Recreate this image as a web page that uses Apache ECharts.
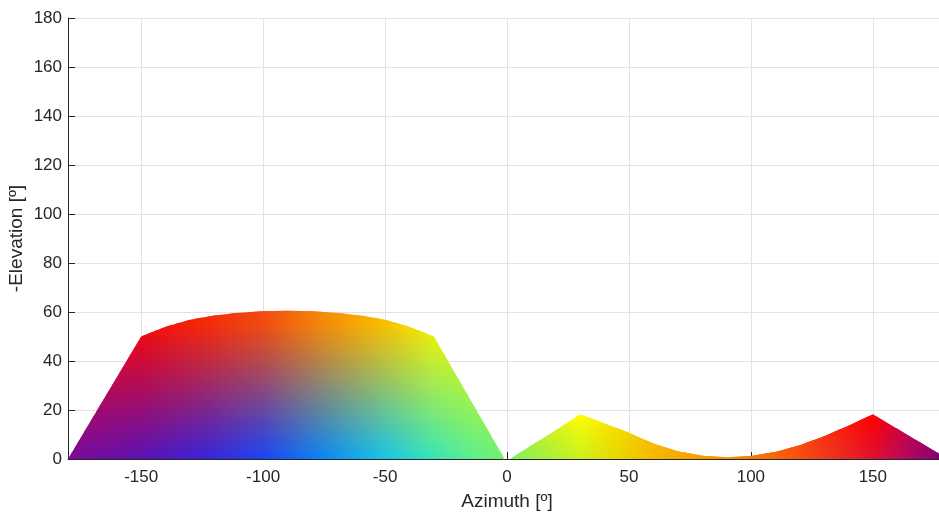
<!DOCTYPE html>
<html>
<head>
<meta charset="utf-8">
<title>Azimuth / Elevation coverage</title>
<script src="https://cdn.jsdelivr.net/npm/echarts@6/dist/echarts.min.js"></script>
<style>
  html, body { margin: 0; padding: 0; background: #fff; }
  #chart { width: 939px; height: 519px; }
</style>
</head>
<body>
<div id="chart"></div>
<script>
// outline of the two coloured regions (top edge)
const westAz = [-180, -150, -140, -130, -120, -110, -100, -90, -80, -70, -60, -50, -40, -30, -1]
const westEl = [0, 50, 54, 56.8, 58.6, 59.7, 60.3, 60.5, 60.3, 59.7, 58.6, 56.8, 54, 50, 0]
const eastAz = [1.2, 10, 20, 30, 40, 50, 60, 70, 80, 90, 100, 110, 120, 130, 140, 150, 160, 170, 180]
const eastEl = [0, 5.5, 11.7, 18.2, 14.5, 10.7, 6.3, 3.2, 1.3, 0.7, 1.2, 2.9, 5.6, 9.3, 13.6, 18.2, 12.3, 6.4, 0.5]
const xTicks = [-150, -100, -50, 0, 50, 100, 150]

// colour at elevation 0 (low) and at elevation `span` (high), per azimuth stop
const westPal = {
  stops: [-180, -150, -125, -100, -75, -50, -30, -15, 0],
  low: ['#7a0a9a', '#5a12b4', '#3a22d8', '#1a44f4', '#0a88f4', '#18c4e8', '#38e4b8', '#58ee90', '#78f070'],
  high: ['#ff0010', '#f80808', '#f42808', '#f04c10', '#f48a08', '#f8c000', '#f8f000', '#f0f800', '#e0f800'],
  span: 55
}
const eastPal = {
  stops: [0, 15, 30, 45, 60, 90, 120, 150, 165, 180],
  low: ['#80f060', '#a0f040', '#c8f020', '#e8d800', '#f4b800', '#f89000', '#f85010', '#e01030', '#b00860', '#780078'],
  high: ['#a0f040', '#d8f020', '#ffff00', '#f8e000', '#f8c000', '#f89000', '#f84008', '#ff0000', '#c00050', '#800070'],
  span: 18
}

const font = "'Liberation Sans', Arial, Helvetica, sans-serif"
const ink = '#262626'

function rgb(h) {
  return [1, 3, 5].map(i => parseInt(h.slice(i, i + 2), 16))
}
function mix(a, b, t) {
  const p = rgb(a), q = rgb(b)
  return 'rgb(' + p.map((v, i) => Math.round(v + (q[i] - v) * t)).join(',') + ')'
}
function cut(a, b, y) {
  const t = (y - a[1]) / (b[1] - a[1])
  return [a[0] + t * (b[0] - a[0]), y]
}
// one Sutherland-Hodgman pass against a horizontal line
function clipEdge(pts, inside, y) {
  const res = []
  for (let i = 0; i < pts.length; i++) {
    const cur = pts[i]
    const prev = pts[(i + pts.length - 1) % pts.length]
    const ci = inside(cur), pi = inside(prev)
    if (ci) {
      if (!pi) res.push(cut(prev, cur, y))
      res.push(cur)
    } else if (pi) {
      res.push(cut(prev, cur, y))
    }
  }
  return res
}
function clipBand(pts, yTop, yBot) {
  let out = clipEdge(pts, p => p[1] >= yTop, yTop)
  if (out.length < 3) return out
  return clipEdge(out, p => p[1] <= yBot, yBot)
}

function region(az, el, pal, step) {
  return {
    type: 'custom',
    coordinateSystem: 'cartesian2d',
    clip: true,
    silent: true,
    z: 3,
    data: az.map((a, i) => [a, el[i]]),
    renderItem(params, api) {
      if (params.context.rendered) return
      params.context.rendered = true
      const pts = az.map((a, i) => api.coord([a, el[i]]))
      pts.push(api.coord([az[az.length - 1], 0]))
      pts.push(api.coord([az[0], 0]))
      const x0 = api.coord([-180, 0])[0]
      const x1 = api.coord([180, 0])[0]
      const top = Math.max(...el)
      const children = []
      // horizontal bands, each with its own hue gradient
      for (let k = 0; k * step < top; k++) {
        const e = k * step
        const yBot = api.coord([0, e])[1]
        const yTop = api.coord([0, e + step])[1] - 1.5
        const band = clipBand(pts, yTop, yBot)
        if (band.length < 3) continue
        const t = Math.min(1, (e + step / 2) / pal.span)
        const stops = pal.stops.map((a, i) => ({
          offset: (a + 180) / 360,
          color: mix(pal.low[i], pal.high[i], t)
        }))
        children.push({
          type: 'polygon',
          shape: { points: band },
          style: { fill: new echarts.graphic.LinearGradient(x0, 0, x1, 0, stops, true) }
        })
      }
      return { type: 'group', children }
    }
  }
}

const chart = echarts.init(document.getElementById('chart'))
chart.setOption({
  animation: false,
  backgroundColor: '#fff',
  grid: { left: 68, right: -7, top: 18, bottom: 60, outerBoundsMode: 'none', containLabel: false },
  xAxis: {
    type: 'value',
    min: -180,
    max: 180,
    name: 'Azimuth [º]',
    nameLocation: 'middle',
    nameGap: 33,
    nameMoveOverlap: false,
    nameTextStyle: { fontSize: 19, color: ink, fontFamily: font },
    axisLine: { show: true, onZero: false, lineStyle: { color: ink } },
    axisTick: { show: true, inside: true, length: 7, customValues: xTicks, lineStyle: { color: ink } },
    axisLabel: { customValues: xTicks, fontSize: 17, color: ink, fontFamily: font, margin: 10 },
    splitLine: { show: true, lineStyle: { color: '#e2e2e2' } }
  },
  yAxis: {
    type: 'value',
    min: 0,
    max: 180,
    interval: 20,
    name: '-Elevation [º]',
    nameLocation: 'middle',
    nameRotate: 90,
    nameGap: 42,
    nameMoveOverlap: false,
    nameTextStyle: { fontSize: 19, color: ink, fontFamily: font },
    axisLine: { show: true, onZero: false, lineStyle: { color: ink } },
    axisTick: { show: true, inside: true, length: 7, lineStyle: { color: ink } },
    axisLabel: { fontSize: 17, color: ink, fontFamily: font, margin: 6 },
    splitLine: { show: true, lineStyle: { color: '#e2e2e2' } }
  },
  series: [
    region(westAz, westEl, westPal, 1),
    region(eastAz, eastEl, eastPal, 0.5)
  ]
})
</script>
</body>
</html>
